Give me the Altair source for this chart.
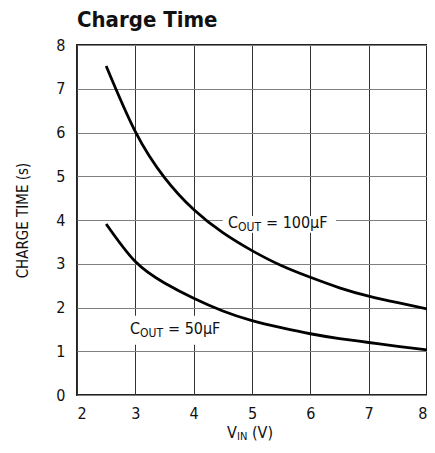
import altair as alt
import pandas as pd

vin = [2.5, 3.0, 3.5, 4.0, 4.5, 5.0, 5.5, 6.0, 6.5, 7.0, 7.5, 8.0]
t100 = [7.52, 6.02, 4.97, 4.24, 3.71, 3.30, 2.96, 2.69, 2.45, 2.26, 2.11, 1.97]
t50 = [3.91, 3.05, 2.56, 2.21, 1.92, 1.70, 1.54, 1.40, 1.29, 1.20, 1.11, 1.03]
x_ticks = [2, 3, 4, 5, 6, 7, 8]
y_ticks = [0, 1, 2, 3, 4, 5, 6, 7, 8]

FONT = "DejaVu Sans Condensed, Roboto, sans-serif"

df = pd.DataFrame(
    {"vin": vin * 2, "t": t100 + t50, "c": ["100"] * len(vin) + ["50"] * len(vin)}
)

xs = alt.Scale(domain=[2, 8], nice=False, zero=False)
ys = alt.Scale(domain=[0, 8], nice=False)

base = alt.Chart(df)

lines = base.mark_line(color="black", strokeWidth=2.8, interpolate="natural").encode(
    x=alt.X(
        "vin:Q",
        scale=xs,
        axis=alt.Axis(
            values=x_ticks, format="d", title=None, ticks=False, domain=False,
            gridColor="#333333", gridWidth=1, gridOpacity=1,
            labelFontSize=16, labelPadding=10, labelFont=FONT, labelColor="#111",
        ),
    ),
    y=alt.Y(
        "t:Q",
        scale=ys,
        axis=alt.Axis(
            values=y_ticks, format="d", title="CHARGE TIME (s)", ticks=False, domain=False,
            gridColor="#808080", gridWidth=1, gridOpacity=1,
            labelFontSize=16, labelPadding=12, labelFont=FONT, labelColor="#111",
            titleFont=FONT, titleFontSize=15, titleFontWeight="normal",
            titlePadding=25, titleColor="#111",
        ),
    ),
    detail="c:N",
)

boxes = pd.DataFrame(
    {"x": [4.50, 2.82], "x2": [6.44, 4.62], "y": [4.09, 1.81], "y2": [3.71, 1.15]}
)
bg = alt.Chart(boxes).mark_rect(color="white").encode(
    x=alt.X("x:Q", scale=xs), x2="x2:Q", y=alt.Y("y:Q", scale=ys), y2="y2:Q"
)


def txt(s, x, y, size=16, weight="normal", baseline="middle", align="left"):
    return alt.Chart(pd.DataFrame({"a": [0]})).mark_text(
        text=s, font=FONT, fontSize=size, fontWeight=weight,
        baseline=baseline, align=align, color="#111",
    ).encode(x=alt.value(x), y=alt.value(y))


labels = [
    # C_OUT = 100uF
    txt("C", 151, 178),
    txt("OUT", 161, 182, size=12),
    txt("= 100\u00b5F", 189, 178),
    # C_OUT = 50uF
    txt("C", 53, 284),
    txt("OUT", 63, 288, size=12),
    txt("= 50\u00b5F", 91, 284),
    # x axis title
    txt("V", 150, 388),
    txt("IN", 160, 392, size=11),
    txt("(V)", 175, 388),
    # title
    txt("Charge Time", 0, -18, size=22, weight="bold", baseline="alphabetic"),
]

chart = alt.layer(bg, lines, *labels).properties(
    width=350,
    height=350,
    padding={"left": 69, "top": 37, "right": 0, "bottom": 50},
    autosize=alt.AutoSizeParams(type="none"),
).configure_view(stroke="#222222", strokeWidth=2)

chart.save("out.html", embed_options={"renderer": "svg", "actions": False})
